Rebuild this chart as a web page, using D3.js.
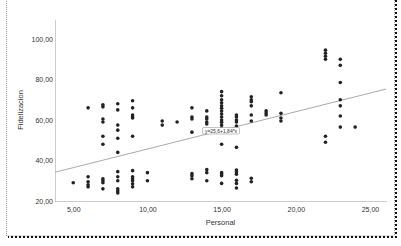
<!DOCTYPE html>
<html>
<head>
<meta charset="utf-8">
<script src="https://cdn.jsdelivr.net/npm/d3@7"></script>
<style>
    body { margin: 0; background: #fff; }
    text { font-family: "Liberation Sans", Arial, sans-serif; fill: #333; }
</style>
</head>
<body>
<div id="chart"></div>
<script>
// Personal (x) values, one entry per column of points
const personal = [5, 6, 7, 8, 9, 10, 11, 12, 13, 14, 15, 16, 17, 18, 19, 22, 23, 24];

// Fidelizacion values for each column above
const fidelizacion = [
    [29],
    [66, 32, 29.5, 28, 27],
    [67.5, 66.5, 60.5, 59, 52, 48, 31, 30, 29, 26],
    [68, 65, 57.5, 55, 51, 44, 34.5, 32, 30, 26, 25, 24],
    [69.5, 66, 62.5, 61.5, 61, 52, 35, 32, 31, 30, 28.5, 27],
    [34, 30],
    [59.5, 57.5],
    [59],
    [66, 61.5, 60.5, 54, 33.5, 32.5, 31],
    [64.5, 61.5, 60.5, 59, 58, 55, 35.5, 34, 30],
    [74, 72, 70, 68.5, 67, 65.8, 64.4, 63, 61.5, 60, 58.9, 57.5, 56.2, 48, 34, 33.3, 32.5, 28.7],
    [62.5, 61.5, 60, 59, 57, 46.5, 35.3, 34.3, 33.2, 30.2, 28.7, 26.4],
    [71.5, 70, 69, 67, 62.5, 59.5, 31.2, 29.5],
    [64.5, 63.5, 62.5],
    [73.5, 63.3, 61, 59.5],
    [94.5, 93, 91.5, 90, 52, 49],
    [90, 87, 78.5, 70, 67, 62, 56.5],
    [56.5]
];

const xTicks = [5, 10, 15, 20, 25];
const yTicks = [20, 40, 60, 80, 100];

// fit line ends (x, y)
const fitX = [3.77, 26.08];
const fitY = [34.2, 75.3];
const fitLabel = "y=25,6+1,84*x";

const width = 401, height = 246;
const margin = { top: 20, right: 15, bottom: 45, left: 55 };

const svg = d3.select("#chart").append("svg")
    .attr("width", width)
    .attr("height", height);

// outer frame: dotted outline with a dark dashed edge right/bottom
svg.append("rect")
    .attr("x", 6.5).attr("y", -2)
    .attr("width", 388).attr("height", 238)
    .attr("fill", "none")
    .attr("stroke", "#999")
    .attr("stroke-dasharray", "1,1");
svg.append("path")
    .attr("d", "M396,0 V237 H8")
    .attr("fill", "none")
    .attr("stroke", "#111")
    .attr("stroke-width", 2)
    .attr("stroke-dasharray", "2,2");

const xScale = d3.scaleLinear()
    .domain([3.77, 26.08])
    .range([margin.left, width - margin.right]);
const yScale = d3.scaleLinear()
    .domain([20, 109.4])
    .range([height - margin.bottom, margin.top]);

const fmt = d => d3.format(".2f")(d).replace(".", ",");

// axes
const xAxis = d3.axisBottom(xScale).tickValues(xTicks).tickSize(0).tickPadding(6).tickFormat(fmt);
const yAxis = d3.axisLeft(yScale).tickValues(yTicks).tickSize(0).tickPadding(2).tickFormat(fmt);

const xAxisG = svg.append("g")
    .attr("transform", `translate(0,${height - margin.bottom})`)
    .call(xAxis);
const yAxisG = svg.append("g")
    .attr("transform", `translate(${margin.left},0)`)
    .call(yAxis);

[xAxisG, yAxisG].forEach(g => {
    g.select(".domain")
        .attr("stroke", "#999")
        .attr("stroke-dasharray", "1,1");
    g.selectAll("text")
        .style("font-size", "7px")
        .attr("fill", "#333");
});

// axis titles
svg.append("text")
    .attr("x", (margin.left + width - margin.right) / 2)
    .attr("y", 225)
    .attr("text-anchor", "middle")
    .style("font-size", "7.5px")
    .text("Personal");

svg.append("text")
    .attr("transform", "translate(23,110) rotate(-90)")
    .attr("text-anchor", "middle")
    .style("font-size", "7.5px")
    .text("Fidelizacion");

// fit line
svg.append("line")
    .attr("x1", xScale(fitX[0])).attr("y1", yScale(fitY[0]))
    .attr("x2", xScale(fitX[1])).attr("y2", yScale(fitY[1]))
    .attr("stroke", "#aaa")
    .attr("stroke-width", 1);

// points
const points = [];
personal.forEach((p, i) => fidelizacion[i].forEach(v => points.push({ x: p, y: v })));

svg.selectAll(".dot")
    .data(points)
    .enter().append("circle")
    .attr("class", "dot")
    .attr("cx", d => xScale(d.x))
    .attr("cy", d => yScale(d.y))
    .attr("r", 1.8)
    .attr("fill", "#222");

// fit label box
const lx = 221;
const ly = yScale(fitY[0] + (fitY[1] - fitY[0]) * (xScale.invert(lx) - fitX[0]) / (fitX[1] - fitX[0]));
svg.append("rect")
    .attr("x", lx - 18.5).attr("y", ly - 3)
    .attr("width", 37).attr("height", 6.5)
    .attr("fill", "#fff")
    .attr("stroke", "#999")
    .attr("stroke-width", 0.6)
    .attr("rx", 1);
svg.append("text")
    .attr("x", lx).attr("y", ly + 2)
    .attr("text-anchor", "middle")
    .style("font-size", "5px")
    .text(fitLabel);
</script>
</body>
</html>
